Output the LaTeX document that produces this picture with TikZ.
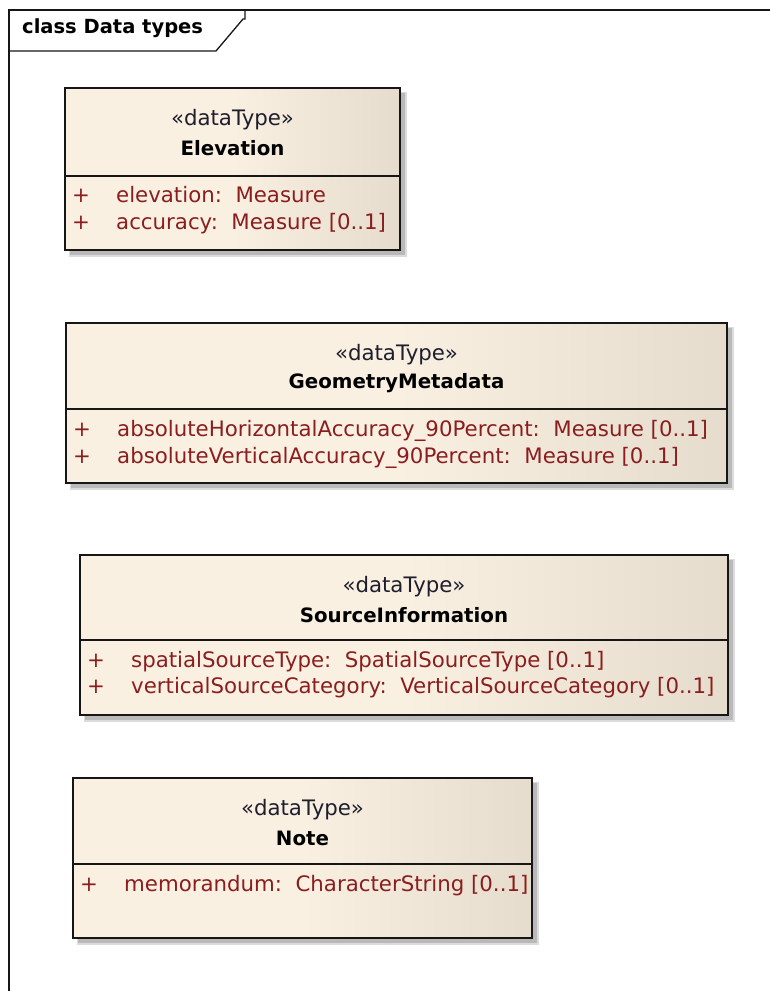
\documentclass[tikz,border=0pt]{standalone}
\usepackage{fontspec}
\setmainfont{DejaVu Sans}
\usetikzlibrary{calc}

\definecolor{fillL}{RGB}{250,240,226}
\definecolor{fillR}{RGB}{229,220,205}
\definecolor{attrred}{RGB}{138,30,30}
\definecolor{shadowgray}{RGB}{185,185,185}
\definecolor{shadowedge}{RGB}{220,220,220}
\definecolor{inkline}{RGB}{22,22,22}
\definecolor{stereo}{RGB}{30,30,45}

% cream to beige fill, flat on the left, darkening towards the right edge
\pgfdeclarehorizontalshading{classfill}{100bp}{color(0bp)=(fillL); color(25bp)=(fillL); color(50bp)=(fillL); color(75bp)=(fillR); color(100bp)=(fillR)}

\tikzset{
  regular/.style={font=\fontsize{21.3}{25}\selectfont, inner sep=0pt},
  classname/.style={font=\fontsize{19.8}{24}\selectfont\bfseries, inner sep=0pt, text=black},
  stereotype/.style={regular, text=stereo},
  attribute/.style={regular, text=attrred, anchor=mid west},
  border/.style={draw=inkline, line width=1.8pt},
  divider/.style={draw=inkline, line width=1.5pt},
}

% #1 id, #2 left, #3 top, #4 right, #5 bottom, #6 divider, #7 class name
\newcommand\umlclass[7]{%
  \fill[shadowedge] ({#2+4},{#3+4}) rectangle ({#4+7},{#5+7});
  \fill[shadowgray] ({#2+5},{#3+5}) rectangle ({#4+5},{#5+5});
  \shade[shading=classfill] (#2,#3) rectangle (#4,#5);
  \draw[border] (#2,#3) rectangle (#4,#5);
  \draw[divider] (#2,#6) -- (#4,#6);
  \node[stereotype] (#1-st) at ({(#2+#4)/2},{#3+32}) {«dataType»};
  \node[classname] (#1-nm) at ({(#2+#4)/2},{#3+60}) {#7};
}
% #1 id, #2 left edge of class, #3 y, #4 text
\newcommand\umlattr[4]{%
  \node[regular, text=attrred, anchor=mid] (#1-plus) at ({#2+16},#3) {+};
  \node[attribute] (#1) at ({#2+51},#3) {#4};
}

\begin{document}
\begin{tikzpicture}[x=1pt,y=-1pt]
  \useasboundingbox (0,0) rectangle (770,991);
  \fill[white] (0,0) rectangle (770,991);

  % diagram frame with its name tab
  \draw[inkline, line width=1.5pt] (9,991) -- (9,10) -- (770,10);
  \draw[inkline, line width=1.3pt] (9,51) -- (216,51) -- (243,19) -- (245,19) -- (245,10);
  \node[font=\fontsize{19.5}{24}\selectfont\bfseries, inner sep=0pt, anchor=mid west] (frame-title) at (22,31) {class Data types};

  % Elevation
  \umlclass{elev}{65}{88}{400}{250}{176}{Elevation}
  \umlattr{elev-a1}{65}{200}{elevation:\ \ Measure}
  \umlattr{elev-a2}{65}{227}{accuracy:\ \ Measure [0..1]}

  % GeometryMetadata
  \umlclass{geom}{66}{323}{727}{483}{409}{GeometryMetadata}
  \umlattr{geom-a1}{66}{434}{absoluteHorizontalAccuracy\_90Percent:\ \ Measure [0..1]}
  \umlattr{geom-a2}{66}{461}{absoluteVerticalAccuracy\_90Percent:\ \ Measure [0..1]}

  % SourceInformation
  \umlclass{src}{80}{555}{728}{715}{640}{SourceInformation}
  \umlattr{src-a1}{80}{665}{spatialSourceType:\ \ SpatialSourceType [0..1]}
  \umlattr{src-a2}{80}{691}{verticalSourceCategory:\ \ VerticalSourceCategory [0..1]}

  % Note
  \umlclass{note}{73}{778}{532}{938}{864}{Note}
  \umlattr{note-a1}{73}{889}{memorandum:\ \ CharacterString [0..1]}
\end{tikzpicture}
\end{document}
